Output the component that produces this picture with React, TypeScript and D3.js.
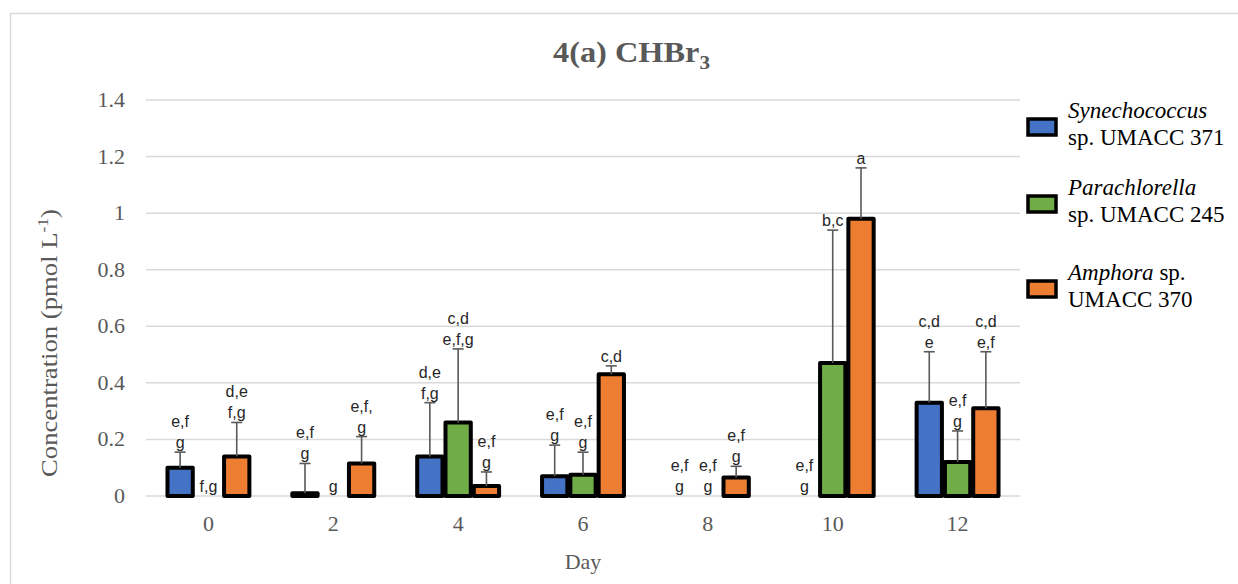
import React from 'react';
import * as d3 from 'd3';

// Days sampled and CHBr3 concentration (pmol L-1) per strain
const days = ['0', '2', '4', '6', '8', '10', '12'];
const seriesNames = ['Synechococcus', 'Parachlorella', 'Amphora'];

const synechococcus = [0.1, 0.01, 0.14, 0.07, 0, 0, 0.33];
const synechococcusErr = [0.055, 0.105, 0.19, 0.11, 0, 0, 0.18];

const parachlorella = [0, 0, 0.26, 0.075, 0, 0.47, 0.12];
const parachlorellaErr = [0, 0, 0.26, 0.08, 0, 0.47, 0.11];

const amphora = [0.14, 0.115, 0.035, 0.43, 0.065, 0.98, 0.31];
const amphoraErr = [0.12, 0.095, 0.05, 0.03, 0.04, 0.18, 0.2];

// Significance letters shown above each bar
const synechococcusLetters = [['e,f', 'g'], ['e,f', 'g'], ['d,e', 'f,g'], ['e,f', 'g'], ['e,f', 'g'], ['e,f', 'g'], ['c,d', 'e']];
const parachlorellaLetters = [['f,g'], ['g'], ['c,d', 'e,f,g'], ['e,f', 'g'], ['e,f', 'g'], ['b,c'], ['e,f', 'g']];
const amphoraLetters = [['d,e', 'f,g'], ['e,f,', 'g'], ['e,f', 'g'], ['c,d'], ['e,f', 'g'], ['a'], ['c,d', 'e,f']];

const yTicks = [0, 0.2, 0.4, 0.6, 0.8, 1, 1.2, 1.4];

const colors = ['#4472C4', '#70AD47', '#ED7D31'];
const legendItalic = ['Synechococcus', 'Parachlorella', 'Amphora'];

const W = 1238;
const H = 584;
const margin = { left: 146, right: 1020, top: 100, bottom: 496 };
const serif = '"Liberation Serif", "Times New Roman", serif';
const sans = '"Liberation Sans", Arial, sans-serif';
const grey = '#595959';

export default function App() {
  const values = [synechococcus, parachlorella, amphora];
  const errs = [synechococcusErr, parachlorellaErr, amphoraErr];
  const letters = [synechococcusLetters, parachlorellaLetters, amphoraLetters];

  const x0 = d3.scaleBand<string>().domain(days).range([margin.left, margin.right]).paddingInner(0.32).paddingOuter(0.16);
  const x1 = d3.scaleBand<string>().domain(seriesNames).range([0, x0.bandwidth()]);
  const y = d3.scaleLinear().domain([0, 1.4]).range([margin.bottom, margin.top]);

  const bw = x1.bandwidth();

  return (
    <svg width={W} height={H} style={{ position: 'absolute', left: 0, top: 0, background: '#fff' }}>
      {/* outer frame */}
      <line x1={10} x2={W} y1={13.5} y2={13.5} stroke="#d9d9d9" strokeWidth={1.5} />
      <line x1={10.5} x2={10.5} y1={13} y2={H} stroke="#d9d9d9" strokeWidth={1.5} />

      {/* title */}
      <text
        x={553}
        y={62}
        fontFamily={serif}
        fontWeight="bold"
        fontSize={29}
        fill={grey}
        textLength={157}
        lengthAdjust="spacingAndGlyphs"
      >
        4(a) CHBr<tspan fontSize={19} dy={7}>3</tspan>
      </text>

      {/* gridlines */}
      {yTicks.map((t) => (
        <line key={t} x1={margin.left} x2={margin.right} y1={y(t)} y2={y(t)} stroke="#d9d9d9" strokeWidth={1.5} />
      ))}

      {/* y tick labels */}
      {yTicks.map((t) => (
        <text key={'yl' + t} x={125} y={y(t) + 7} textAnchor="end" fontFamily={serif} fontSize={22} fill={grey}>
          {d3.format('~g')(t)}
        </text>
      ))}

      {/* y axis title */}
      <text
        transform="translate(57, 477) rotate(-90)"
        fontFamily={serif}
        fontSize={23}
        fill={grey}
        textLength={268}
        lengthAdjust="spacingAndGlyphs"
      >
        Concentration (pmol L<tspan fontSize={15} dy={-9}>-1</tspan>
        <tspan dy={9}>)</tspan>
      </text>

      {/* x tick labels */}
      {days.map((d) => (
        <text key={'xl' + d} x={(x0(d) ?? 0) + x0.bandwidth() / 2} y={531} textAnchor="middle" fontFamily={serif} fontSize={22} fill={grey}>
          {d}
        </text>
      ))}

      <text x={583} y={569} textAnchor="middle" fontFamily={serif} fontSize={22} fill={grey}>
        Day
      </text>

      {/* bars */}
      {seriesNames.map((s, si) =>
        days.map((d, di) => {
          const v = values[si][di];
          if (v <= 0) return null;
          const bx = (x0(d) ?? 0) + (x1(s) ?? 0);
          return (
            <rect
              key={s + d}
              x={bx + 1.5}
              y={y(v)}
              width={bw - 3}
              height={y(0) - y(v)}
              fill={colors[si]}
              stroke="#000"
              strokeWidth={4}
              strokeLinejoin="round"
            />
          );
        })
      )}

      {/* error bars (upper only) */}
      {seriesNames.map((s, si) =>
        days.map((d, di) => {
          const v = values[si][di];
          const e = errs[si][di];
          if (v <= 0 || e <= 0) return null;
          const cx = (x0(d) ?? 0) + (x1(s) ?? 0) + bw / 2;
          return (
            <g key={'e' + s + d} stroke={grey} strokeWidth={1.6}>
              <line x1={cx} x2={cx} y1={y(v)} y2={y(v + e)} />
              <line x1={cx - 5.5} x2={cx + 5.5} y1={y(v + e)} y2={y(v + e)} />
            </g>
          );
        })
      )}

      {/* significance letters */}
      {seriesNames.map((s, si) =>
        days.map((d, di) => {
          const top = values[si][di] + errs[si][di];
          const cx = (x0(d) ?? 0) + (x1(s) ?? 0) + bw / 2;
          const lines = letters[si][di];
          const base = y(top) - 4;
          return (
            <text key={'t' + s + d} textAnchor="middle" fontFamily={sans} fontSize={16} fill="#262626">
              {lines.map((l, li) => (
                <tspan key={li} x={cx} y={base - (lines.length - 1 - li) * 21}>
                  {l}
                </tspan>
              ))}
            </text>
          );
        })
      )}

      {/* legend */}
      {seriesNames.map((s, si) => {
        const top = [118, 195, 280][si];
        const lines = [
          [legendItalic[0], 'sp. UMACC 371'],
          [legendItalic[1], 'sp. UMACC 245'],
          [legendItalic[2], 'UMACC 370'],
        ][si];
        return (
          <g key={'lg' + s}>
            <rect x={1028} y={top + 1} width={28} height={16} fill={colors[si]} stroke="#000" strokeWidth={3.5} />
            <text x={1068} y={top + 0} fontFamily={serif} fontSize={23} fill="#000">
              <tspan fontStyle="italic">{lines[0]}</tspan>
              {si === 2 ? <tspan> sp.</tspan> : null}
            </text>
            <text x={1068} y={top + 27} fontFamily={serif} fontSize={23} fill="#000">
              {lines[1]}
            </text>
          </g>
        );
      })}
    </svg>
  );
}
